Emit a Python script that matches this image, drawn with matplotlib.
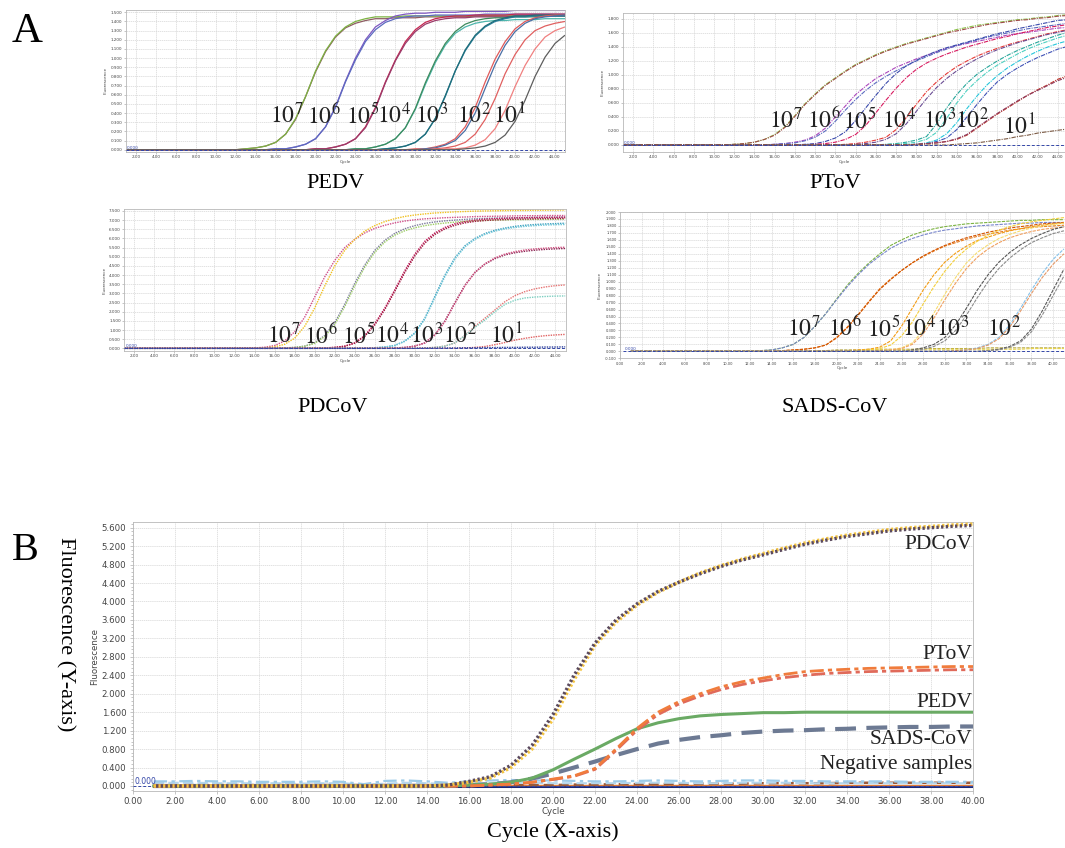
import numpy as np
import matplotlib
matplotlib.use("Agg")
import matplotlib.pyplot as plt
from matplotlib.ticker import MultipleLocator

plt.rcParams["mathtext.fontset"] = "stix"
SERIF = ["Liberation Serif", "DejaVu Serif"]
SANS = ["DejaVu Sans"]

# ============================ DATA ============================
# ---- Panel A : PEDV (cycles 1..45) ----
cycles_pedv = list(range(1, 46))
pedv_7a = [0.0] * 11 + [0.00, 0.01, 0.02, 0.04, 0.08, 0.17, 0.33, 0.58, 0.85, 1.07, 1.23, 1.33, 1.38, 1.41, 1.43, 1.43,
                        1.44, 1.44, 1.44, 1.45, 1.45, 1.45, 1.45, 1.45, 1.46, 1.46, 1.46, 1.46, 1.46, 1.46, 1.47, 1.47, 1.47, 1.47]
pedv_7b = [0.0] * 11 + [0.00, 0.01, 0.02, 0.04, 0.08, 0.17, 0.34, 0.58, 0.86, 1.08, 1.24, 1.34, 1.40, 1.43, 1.45, 1.45,
                        1.45, 1.46, 1.46, 1.46, 1.46, 1.46, 1.46, 1.46, 1.46, 1.46, 1.46, 1.46, 1.46, 1.46, 1.46, 1.46, 1.46, 1.46]
pedv_6a = [0.0] * 15 + [0.01, 0.01, 0.03, 0.06, 0.12, 0.25, 0.47, 0.75, 1.00, 1.20, 1.34, 1.41, 1.46, 1.48, 1.49, 1.49,
                        1.50, 1.50, 1.50, 1.51, 1.51, 1.51, 1.51, 1.51, 1.52, 1.52, 1.52, 1.52, 1.52, 1.52]
pedv_6b = [0.0] * 15 + [0.01, 0.01, 0.03, 0.06, 0.12, 0.25, 0.46, 0.74, 0.98, 1.18, 1.31, 1.39, 1.43, 1.45, 1.46, 1.46,
                        1.47, 1.47, 1.47, 1.47, 1.47, 1.48, 1.48, 1.48, 1.48, 1.48, 1.48, 1.48, 1.48, 1.48]
pedv_5a = [0.0] * 19 + [0.01, 0.01, 0.03, 0.06, 0.12, 0.25, 0.46, 0.74, 0.98, 1.18, 1.31, 1.39, 1.43, 1.45, 1.46, 1.46,
                        1.47, 1.47, 1.47, 1.47, 1.48, 1.48, 1.48, 1.48, 1.48, 1.48]
pedv_5b = [0.0] * 19 + [0.01, 0.01, 0.03, 0.06, 0.12, 0.24, 0.45, 0.73, 0.97, 1.16, 1.29, 1.37, 1.41, 1.43, 1.44, 1.44,
                        1.45, 1.45, 1.45, 1.45, 1.46, 1.46, 1.46, 1.46, 1.46, 1.46]
pedv_4a = [0.0] * 23 + [0.01, 0.01, 0.03, 0.06, 0.12, 0.24, 0.44, 0.71, 0.95, 1.14, 1.27, 1.34, 1.38, 1.40, 1.41, 1.41,
                        1.42, 1.42, 1.42, 1.43, 1.43, 1.43]
pedv_4b = [0.0] * 23 + [0.01, 0.01, 0.03, 0.06, 0.12, 0.24, 0.45, 0.73, 0.97, 1.16, 1.29, 1.37, 1.41, 1.43, 1.44, 1.44,
                        1.45, 1.45, 1.45, 1.46, 1.46, 1.46]
pedv_3a = [0.0] * 25 + [0.00, 0.01, 0.02, 0.04, 0.08, 0.17, 0.34, 0.58, 0.86, 1.08, 1.24, 1.34, 1.40, 1.43, 1.45, 1.45,
                        1.46, 1.46, 1.46, 1.46]
pedv_3b = [0.0] * 25 + [0.00, 0.01, 0.02, 0.04, 0.08, 0.17, 0.34, 0.59, 0.86, 1.09, 1.25, 1.35, 1.41, 1.44, 1.46, 1.46,
                        1.47, 1.47, 1.47, 1.47]
pedv_2a = [0.0] * 29 + [0.01, 0.01, 0.03, 0.06, 0.12, 0.25, 0.46, 0.74, 0.99, 1.18, 1.32, 1.40, 1.44, 1.46, 1.47, 1.47]
pedv_2b = [0.0] * 29 + [0.00, 0.01, 0.02, 0.05, 0.10, 0.21, 0.40, 0.67, 0.93, 1.14, 1.29, 1.38, 1.43, 1.45, 1.46, 1.47]
pedv_1a = [0.0] * 30 + [0.00, 0.01, 0.02, 0.04, 0.08, 0.17, 0.33, 0.56, 0.83, 1.04, 1.20, 1.30, 1.35, 1.38, 1.40]
pedv_1b = [0.0] * 32 + [0.01, 0.01, 0.02, 0.05, 0.11, 0.23, 0.43, 0.69, 0.92, 1.10, 1.23, 1.30, 1.34]
pedv_1c = [0.0] * 33 + [0.00, 0.01, 0.02, 0.04, 0.08, 0.16, 0.31, 0.54, 0.80, 1.01, 1.16, 1.25]
pedv_series = [pedv_7a, pedv_7b, pedv_6a, pedv_6b, pedv_5a, pedv_5b, pedv_4a, pedv_4b,
               pedv_3a, pedv_3b, pedv_2a, pedv_2b, pedv_1a, pedv_1b, pedv_1c]

# ---- Panel A : PToV (cycles 1..45) ----
cycles_ptov = list(range(1, 46))
ptov_7a = [0.0] * 11 + [0.01, 0.02, 0.04, 0.08, 0.15, 0.26, 0.42, 0.59, 0.73, 0.86, 0.96, 1.06, 1.15, 1.22, 1.29, 1.35, 1.40,
                        1.45, 1.49, 1.53, 1.57, 1.61, 1.65, 1.68, 1.71, 1.73, 1.75, 1.77, 1.79, 1.80, 1.82, 1.83, 1.85, 1.86]
ptov_7b = [0.0] * 11 + [0.01, 0.02, 0.04, 0.08, 0.14, 0.25, 0.41, 0.58, 0.72, 0.85, 0.95, 1.05, 1.14, 1.21, 1.28, 1.34, 1.39,
                        1.44, 1.48, 1.52, 1.56, 1.60, 1.63, 1.66, 1.69, 1.72, 1.74, 1.76, 1.78, 1.79, 1.81, 1.82, 1.84, 1.85]
ptov_6a = [0.0] * 15 + [0.01, 0.02, 0.04, 0.07, 0.13, 0.24, 0.40, 0.56, 0.72, 0.84, 0.95, 1.03, 1.11, 1.17, 1.23,
                        1.28, 1.33, 1.38, 1.42, 1.45, 1.48, 1.51, 1.54, 1.57, 1.59, 1.61, 1.63, 1.65, 1.67, 1.68]
ptov_6b = [0.0] * 15 + [0.01, 0.02, 0.03, 0.06, 0.11, 0.20, 0.34, 0.50, 0.65, 0.78, 0.89, 0.98, 1.06, 1.13, 1.20,
                        1.26, 1.32, 1.37, 1.42, 1.46, 1.50, 1.54, 1.57, 1.60, 1.63, 1.66, 1.68, 1.70, 1.72, 1.74]
ptov_5a = [0.0] * 18 + [0.01, 0.02, 0.05, 0.10, 0.19, 0.35, 0.53, 0.71, 0.88, 1.02, 1.13, 1.21, 1.28, 1.34,
                        1.39, 1.43, 1.47, 1.51, 1.55, 1.59, 1.62, 1.66, 1.69, 1.72, 1.75, 1.78, 1.79]
ptov_5b = [0.0] * 19 + [0.01, 0.02, 0.04, 0.08, 0.15, 0.28, 0.46, 0.64, 0.81, 0.96, 1.08, 1.17, 1.24, 1.30,
                        1.35, 1.40, 1.44, 1.48, 1.52, 1.55, 1.59, 1.62, 1.65, 1.68, 1.70, 1.72]
ptov_4a = [0.0] * 22 + [0.01, 0.02, 0.04, 0.07, 0.11, 0.22, 0.39, 0.58, 0.76, 0.90, 1.02, 1.12, 1.20, 1.27,
                        1.33, 1.38, 1.43, 1.47, 1.51, 1.55, 1.59, 1.62, 1.65]
ptov_4b = [0.0] * 23 + [0.01, 0.02, 0.04, 0.08, 0.16, 0.30, 0.48, 0.66, 0.82, 0.95, 1.06, 1.15, 1.23, 1.30,
                        1.36, 1.41, 1.46, 1.50, 1.54, 1.58, 1.61, 1.64]
ptov_3a = [0.0] * 26 + [0.01, 0.02, 0.04, 0.07, 0.12, 0.30, 0.53, 0.72, 0.88, 1.01, 1.11, 1.20, 1.28, 1.35,
                        1.41, 1.47, 1.52, 1.57, 1.61]
ptov_3b = [0.0] * 27 + [0.01, 0.02, 0.04, 0.08, 0.18, 0.38, 0.60, 0.78, 0.92, 1.04, 1.14, 1.22, 1.30, 1.37,
                        1.43, 1.48, 1.53, 1.57]
ptov_2a = [0.0] * 29 + [0.01, 0.02, 0.05, 0.10, 0.22, 0.40, 0.58, 0.75, 0.90, 1.01, 1.10, 1.18, 1.25, 1.31, 1.37, 1.41]
ptov_2b = [0.0] * 29 + [0.01, 0.03, 0.07, 0.16, 0.32, 0.52, 0.70, 0.86, 0.99, 1.10, 1.19, 1.27, 1.34, 1.40, 1.45, 1.49]
ptov_1a = [0.0] * 29 + [0.01, 0.02, 0.03, 0.05, 0.08, 0.14, 0.24, 0.34, 0.44, 0.53, 0.62, 0.71, 0.79, 0.86, 0.94, 0.99]
ptov_1b = [0.0] * 29 + [0.01, 0.02, 0.03, 0.05, 0.09, 0.15, 0.25, 0.35, 0.45, 0.54, 0.63, 0.71, 0.78, 0.85, 0.92, 0.97]
ptov_1c = [0.0] * 32 + [0.00, 0.01, 0.02, 0.03, 0.05, 0.07, 0.09, 0.12, 0.14, 0.17, 0.19, 0.21, 0.23]
ptov_series = [ptov_7a, ptov_7b, ptov_6a, ptov_6b, ptov_5a, ptov_5b, ptov_4a, ptov_4b,
               ptov_3a, ptov_3b, ptov_2a, ptov_2b, ptov_1a, ptov_1b, ptov_1c]

# ---- Panel A : PDCoV (cycles 1..45) ----
cycles_pdcov = list(range(1, 46))
pdcov_7a = [0.0] * 13 + [0.02, 0.06, 0.15, 0.40, 0.90, 1.70, 2.80, 3.90, 4.80, 5.50, 5.95, 6.30, 6.55, 6.72, 6.85, 6.95,
                         7.02, 7.07, 7.10, 7.13, 7.15, 7.17, 7.19, 7.20, 7.21, 7.22, 7.23, 7.24, 7.24, 7.25, 7.25, 7.25]
pdcov_7b = [0.0] * 13 + [0.01, 0.03, 0.08, 0.22, 0.55, 1.20, 2.20, 3.40, 4.50, 5.35, 5.95, 6.40, 6.70, 6.92, 7.08, 7.20,
                         7.28, 7.34, 7.39, 7.42, 7.45, 7.47, 7.49, 7.50, 7.51, 7.52, 7.53, 7.53, 7.54, 7.54, 7.55, 7.55]
pdcov_6a = [0.0] * 16 + [0.02, 0.05, 0.12, 0.30, 0.70, 1.40, 2.40, 3.55, 4.55, 5.35, 5.90, 6.28, 6.53, 6.70, 6.82,
                         6.90, 6.96, 7.00, 7.04, 7.07, 7.09, 7.11, 7.12, 7.13, 7.14, 7.15, 7.15, 7.16, 7.16]
pdcov_6b = [0.0] * 16 + [0.02, 0.05, 0.11, 0.27, 0.64, 1.30, 2.28, 3.42, 4.44, 5.24, 5.80, 6.18, 6.42, 6.58, 6.70,
                         6.78, 6.84, 6.89, 6.93, 6.96, 6.98, 7.00, 7.01, 7.02, 7.03, 7.04, 7.04, 7.05, 7.05]
pdcov_5a = [0.0] * 20 + [0.02, 0.05, 0.12, 0.30, 0.70, 1.35, 2.20, 3.20, 4.25, 5.15, 5.85, 6.30, 6.60, 6.80, 6.92,
                         7.00, 7.05, 7.08, 7.10, 7.12, 7.13, 7.14, 7.15, 7.15, 7.16]
pdcov_5b = [0.0] * 20 + [0.02, 0.05, 0.11, 0.28, 0.66, 1.28, 2.12, 3.12, 4.15, 5.05, 5.75, 6.22, 6.52, 6.72, 6.85,
                         6.93, 6.98, 7.01, 7.03, 7.05, 7.06, 7.07, 7.08, 7.08, 7.09]
pdcov_4a = [0.0] * 24 + [0.01, 0.03, 0.07, 0.16, 0.40, 0.85, 1.65, 2.85, 4.00, 4.95, 5.60, 6.00, 6.27, 6.45, 6.57,
                         6.66, 6.72, 6.76, 6.79, 6.81, 6.83]
pdcov_4b = [0.0] * 24 + [0.01, 0.03, 0.07, 0.15, 0.38, 0.82, 1.60, 2.78, 3.92, 4.88, 5.54, 5.95, 6.22, 6.40, 6.52,
                         6.60, 6.66, 6.70, 6.73, 6.75, 6.76]
pdcov_3a = [0.0] * 27 + [0.02, 0.05, 0.12, 0.30, 0.75, 1.50, 2.50, 3.45, 4.15, 4.60, 4.90, 5.10, 5.22, 5.30, 5.36,
                         5.40, 5.43, 5.45]
pdcov_3b = [0.0] * 27 + [0.02, 0.05, 0.12, 0.29, 0.72, 1.46, 2.46, 3.42, 4.15, 4.62, 4.94, 5.15, 5.28, 5.37, 5.43,
                         5.47, 5.50, 5.52]
pdcov_2a = [0.0] * 30 + [0.02, 0.05, 0.12, 0.30, 0.70, 1.20, 1.65, 2.10, 2.55, 2.88, 3.10, 3.25, 3.35, 3.42, 3.46]
pdcov_2b = [0.0] * 30 + [0.02, 0.05, 0.12, 0.30, 0.70, 1.15, 1.55, 2.00, 2.40, 2.63, 2.75, 2.80, 2.83, 2.85, 2.86]
pdcov_1a = [0.0] * 34 + [0.02, 0.05, 0.10, 0.20, 0.32, 0.45, 0.55, 0.63, 0.69, 0.73, 0.76]
pdcov_neg = [0.0] * 30 + [0.01, 0.01, 0.02, 0.02, 0.03, 0.03, 0.04, 0.04, 0.05, 0.05, 0.06, 0.06, 0.07, 0.07, 0.08]
pdcov_series = [pdcov_7a, pdcov_7b, pdcov_6a, pdcov_6b, pdcov_5a, pdcov_5b, pdcov_4a, pdcov_4b,
                pdcov_3a, pdcov_3b, pdcov_2a, pdcov_2b, pdcov_1a, pdcov_neg]

# ---- Panel A : SADS-CoV (cycles 1..41) ----
cycles_sads = list(range(1, 42))
sads_7a = [0.0] * 12 + [0.01, 0.02, 0.05, 0.10, 0.20, 0.36, 0.54, 0.75, 0.95, 1.12, 1.27, 1.40, 1.52, 1.60, 1.67,
                        1.72, 1.76, 1.79, 1.81, 1.83, 1.84, 1.85, 1.86, 1.87, 1.88, 1.88, 1.89, 1.89, 1.89]
sads_7b = [0.0] * 12 + [0.01, 0.02, 0.05, 0.10, 0.20, 0.36, 0.54, 0.74, 0.93, 1.10, 1.25, 1.37, 1.48, 1.56, 1.62,
                        1.67, 1.71, 1.74, 1.76, 1.78, 1.80, 1.81, 1.82, 1.83, 1.84, 1.84, 1.85, 1.85, 1.85]
sads_6a = [0.0] * 14 + [0.01, 0.02, 0.03, 0.05, 0.09, 0.20, 0.35, 0.53, 0.72, 0.90, 1.04, 1.16, 1.27, 1.36, 1.44,
                        1.51, 1.56, 1.61, 1.65, 1.68, 1.71, 1.74, 1.76, 1.78, 1.79, 1.80, 1.81]
sads_6b = [0.0] * 14 + [0.01, 0.02, 0.03, 0.05, 0.09, 0.19, 0.34, 0.52, 0.71, 0.89, 1.03, 1.16, 1.27, 1.37, 1.45,
                        1.52, 1.58, 1.63, 1.67, 1.71, 1.74, 1.77, 1.79, 1.81, 1.83, 1.84, 1.85]
sads_5a = [0.0] * 20 + [0.01, 0.02, 0.03, 0.06, 0.15, 0.36, 0.62, 0.88, 1.10, 1.28, 1.41, 1.51, 1.59, 1.64, 1.69,
                        1.73, 1.76, 1.79, 1.81, 1.83, 1.84]
sads_5b = [0.0] * 20 + [0.01, 0.01, 0.02, 0.04, 0.09, 0.22, 0.42, 0.68, 0.93, 1.15, 1.33, 1.47, 1.58, 1.67, 1.74,
                        1.79, 1.83, 1.86, 1.88, 1.90, 1.92]
sads_4a = [0.0] * 23 + [0.01, 0.02, 0.05, 0.12, 0.30, 0.55, 0.82, 1.06, 1.27, 1.42, 1.53, 1.62, 1.68, 1.73, 1.77,
                        1.80, 1.82, 1.84]
sads_4b = [0.0] * 23 + [0.01, 0.02, 0.04, 0.10, 0.25, 0.48, 0.74, 0.98, 1.19, 1.35, 1.47, 1.56, 1.63, 1.68, 1.72,
                        1.75, 1.77, 1.78]
sads_3a = [0.0] * 26 + [0.02, 0.05, 0.10, 0.20, 0.38, 0.62, 0.88, 1.10, 1.28, 1.42, 1.53, 1.62, 1.69, 1.75, 1.79]
sads_3b = [0.0] * 26 + [0.01, 0.03, 0.07, 0.15, 0.30, 0.52, 0.77, 1.00, 1.19, 1.34, 1.46, 1.56, 1.63, 1.69, 1.73]
sads_2a = [0.0] * 30 + [0.01, 0.02, 0.05, 0.10, 0.20, 0.38, 0.62, 0.88, 1.12, 1.32, 1.47]
sads_2b = [0.0] * 30 + [0.01, 0.02, 0.04, 0.09, 0.18, 0.35, 0.58, 0.83, 1.06, 1.25, 1.40]
sads_1a = [0.0] * 33 + [0.01, 0.03, 0.07, 0.15, 0.32, 0.58, 0.88, 1.18]
sads_1b = [0.0] * 33 + [0.01, 0.02, 0.06, 0.13, 0.28, 0.52, 0.80, 1.08]
sads_neg_a = [0.0] * 17 + [0.01, 0.01, 0.02, 0.02, 0.02, 0.03, 0.03, 0.03, 0.03, 0.03, 0.04, 0.04, 0.04, 0.04, 0.04,
                           0.04, 0.05, 0.05, 0.05, 0.05, 0.05, 0.05, 0.05, 0.05]
sads_neg_b = [0.0] * 19 + [0.01, 0.01, 0.01, 0.02, 0.02, 0.02, 0.02, 0.02, 0.03, 0.03, 0.03, 0.03, 0.03, 0.03, 0.03,
                           0.03, 0.03, 0.03, 0.04, 0.04, 0.04, 0.04]
sads_series = [sads_neg_a, sads_neg_b, sads_7a, sads_7b, sads_6a, sads_6b, sads_5a, sads_5b, sads_4a, sads_4b,
               sads_3a, sads_3b, sads_2a, sads_2b, sads_1a, sads_1b]

# dilution labels and where they sit (cycle, fluorescence) in each panel
dilution_labels = ["10^{7}", "10^{6}", "10^{5}", "10^{4}", "10^{3}", "10^{2}", "10^{1}"]
pedv_label_x = [15.4, 19.1, 23.1, 26.2, 30.0, 34.2, 37.8]
pedv_label_y = [0.37] * 7
ptov_label_x = [15.4, 19.2, 22.8, 26.6, 30.7, 33.8, 38.6]
ptov_label_y = [0.35, 0.35, 0.35, 0.35, 0.35, 0.35, 0.26]
pdcov_label_x = [15.2, 18.9, 22.7, 26.0, 29.5, 32.8, 37.5]
pdcov_label_y = [0.68] * 7
sads_label_x = [15.4, 19.2, 22.8, 26.0, 29.2, 33.9]
sads_label_y = [0.33] * 6

# ---- Panel B (cycles 1..40) ----
cycles_b = list(range(1, 41))
b_pdcov_a = [0.0] * 14 + [0.02, 0.10, 0.20, 0.45, 0.88, 1.55, 2.40, 3.10, 3.60, 3.95, 4.22, 4.42, 4.60, 4.76, 4.90,
                          5.01, 5.13, 5.24, 5.33, 5.41, 5.47, 5.53, 5.57, 5.60, 5.63, 5.65]
b_pdcov_b = [0.0] * 14 + [0.02, 0.08, 0.17, 0.40, 0.80, 1.45, 2.30, 3.05, 3.55, 3.92, 4.20, 4.42, 4.62, 4.78, 4.92,
                          5.04, 5.16, 5.27, 5.36, 5.44, 5.50, 5.56, 5.60, 5.63, 5.66, 5.68]
b_ptov_a = [0.0] * 16 + [0.02, 0.04, 0.08, 0.15, 0.22, 0.38, 0.80, 1.25, 1.60, 1.83, 2.00, 2.15, 2.26, 2.34, 2.42,
                         2.48, 2.51, 2.53, 2.55, 2.56, 2.57, 2.58, 2.59, 2.59]
b_ptov_b = [0.0] * 16 + [0.02, 0.04, 0.08, 0.14, 0.21, 0.36, 0.77, 1.21, 1.55, 1.78, 1.95, 2.09, 2.20, 2.28, 2.35,
                         2.40, 2.44, 2.46, 2.48, 2.49, 2.50, 2.51, 2.52, 2.52]
b_pedv = [0.0] * 15 + [0.02, 0.04, 0.08, 0.17, 0.35, 0.58, 0.80, 1.03, 1.24, 1.37, 1.46, 1.52, 1.55, 1.57, 1.59,
                       1.59, 1.60, 1.60, 1.60, 1.60, 1.60, 1.60, 1.60, 1.60, 1.60]
b_sads = [0.0] * 15 + [0.02, 0.04, 0.08, 0.16, 0.27, 0.40, 0.53, 0.67, 0.80, 0.92, 1.00, 1.06, 1.10, 1.15, 1.18,
                       1.20, 1.21, 1.23, 1.24, 1.26, 1.27, 1.28, 1.28, 1.29, 1.29]
b_neg_lightblue = [0.10, 0.10, 0.11, 0.10, 0.10, 0.09, 0.09, 0.09, 0.10, 0.09, 0.04, 0.11, 0.12, 0.10, 0.07, 0.10,
                   0.12, 0.13, 0.12, 0.12, 0.11, 0.10, 0.10, 0.11, 0.12, 0.11, 0.10, 0.11, 0.12, 0.12, 0.11, 0.11,
                   0.10, 0.10, 0.10, 0.10, 0.09, 0.09, 0.09, 0.09]
b_neg_lightblue2 = [0.07, 0.07, 0.07, 0.06, 0.06, 0.06, 0.06, 0.05, 0.06, 0.06, 0.03, 0.05, 0.07, 0.06, 0.04, 0.05,
                    0.06, 0.07, 0.07, 0.06, 0.06, 0.06, 0.06, 0.07, 0.07, 0.07, 0.06, 0.06, 0.07, 0.07, 0.07, 0.06,
                    0.06, 0.06, 0.06, 0.06, 0.06, 0.06, 0.06, 0.06]
b_neg_brown = [0.02] * 20 + [0.03, 0.03, 0.04, 0.04, 0.04, 0.05, 0.05, 0.05, 0.05, 0.06,
                             0.06, 0.06, 0.06, 0.07, 0.07, 0.07, 0.07, 0.07, 0.07, 0.07]
b_neg_orange = [0.03] * 40
b_neg_navy = [0.0] * 40
b_labels = ["PDCoV", "PToV", "PEDV", "SADS-CoV", "Negative samples"]
b_label_y = [5.23, 2.84, 1.80, 1.00, 0.46]

# axis ticks
pedv_yticks = [round(0.1 * i, 1) for i in range(16)]
ptov_yticks = [round(0.2 * i, 1) for i in range(10)]
pdcov_yticks = [round(0.5 * i, 1) for i in range(16)]
sads_yticks = [round(-0.1 + 0.1 * i, 1) for i in range(22)]
a_xticks = list(range(2, 46, 2))
sads_xticks = list(range(0, 42, 2))
b_yticks = [round(0.4 * i, 1) for i in range(15)]
b_xticks = list(range(0, 41, 2))

# ============================ STYLES ============================
pedv_colors = ["#8e5c62", "#7cb342", "#7e57c2", "#5c6bc0", "#c62850", "#9b3b6b", "#4db6ac", "#3d8b5d",
               "#2a7f9e", "#1f6e7a", "#e05a5a", "#4a6fa5", "#e06060", "#f08080", "#5d5d5d"]
ptov_colors = ["#8bc34a", "#a04a4a", "#ab47bc", "#5c6bc0", "#3949ab", "#d81b60", "#e53935", "#6a4c93",
               "#26a69a", "#4dd0c0", "#3f51b5", "#26c6da", "#c0392b", "#8e3b5e", "#7b5a44"]
pdcov_colors = ["#d0508a", "#f0c020", "#7a7a9a", "#9ccc65", "#c2185b", "#a01840", "#3a9fbf", "#6ec6d8",
                "#8b2252", "#d05080", "#e57373", "#7ccfc0", "#e06060", "#2c3e9a"]
sads_colors = ["#b5a642", "#e8d44d", "#7cb342", "#7986cb", "#e67e22", "#d35400", "#f39c12", "#f4d03f",
               "#f7dc6f", "#f0a060", "#555555", "#8a8a8a", "#85c1e9", "#e59866", "#5a5a5a", "#8d8d8d"]


def px_axes(left, top, right, bottom):
    return fig.add_axes([left / 1065, 1 - bottom / 848, (right - left) / 1065, (bottom - top) / 848])


def instrument_style(ax, xticks, yticks, fs, xlabel_fs, pad=1.0):
    ax.set_xticks(xticks)
    ax.set_yticks(yticks)
    ax.set_xticklabels([f"{v:.2f}" for v in xticks], fontsize=fs, family=SANS, color="#444444")
    ax.set_yticklabels([f"{v:.3f}" for v in yticks], fontsize=fs, family=SANS, color="#444444")
    ax.grid(True, color="#d6d6d6", lw=0.5, ls=(0, (2, 1)))
    ax.set_axisbelow(True)
    for s in ax.spines.values():
        s.set_color("#b8b8b8")
        s.set_linewidth(0.6)
    ax.tick_params(length=1.5, width=0.4, colors="#999999", pad=pad, labelcolor="#444444")
    ax.set_xlabel("Cycle", fontsize=xlabel_fs, family=SANS, color="#444444", labelpad=0.5)
    ax.set_ylabel("Fluorescence", fontsize=xlabel_fs, family=SANS, color="#444444", labelpad=2)


def threshold(ax, x0, x1, fs):
    ax.plot([x0, x1], [0, 0], color="#3346a8", lw=0.7, ls=(0, (3, 2)), zorder=3)
    ax.text(x0 + 0.1, 0, "0.000", color="#3346a8", fontsize=fs, family=SANS, va="bottom", ha="left")


fig = plt.figure(figsize=(10.65, 8.48), dpi=100)

# ---------------- PEDV ----------------
ax1 = px_axes(126, 10, 565, 152)
for vals, col in zip(pedv_series, pedv_colors):
    ax1.plot(cycles_pedv, vals, color=col, lw=0.9, solid_capstyle="butt")
threshold(ax1, 1, 45, 3)
ax1.set_xlim(1, 45)
ax1.set_ylim(-0.025, 1.525)
instrument_style(ax1, a_xticks, pedv_yticks, 3, 3)
for lab, x, y in zip(dilution_labels, pedv_label_x, pedv_label_y):
    ax1.text(x, y, f"${lab}$", fontsize=17, va="center", ha="left", color="#222222")

# ---------------- PToV ----------------
ax2 = px_axes(623, 12.7, 1065, 151.7)
for vals, col in zip(ptov_series, ptov_colors):
    ax2.plot(cycles_ptov, vals, color=col, lw=0.8, ls=(0, (4, 1, 1, 1)))
threshold(ax2, 1, 45, 3)
ax2.set_xlim(1, 44.7)
ax2.set_ylim(-0.096, 1.89)
instrument_style(ax2, a_xticks, ptov_yticks, 3, 3)
for lab, x, y in zip(dilution_labels, ptov_label_x, ptov_label_y):
    ax2.text(x, y, f"${lab}$", fontsize=17, va="center", ha="left", color="#222222")

# ---------------- PDCoV ----------------
ax3 = px_axes(124.3, 209.3, 566, 350.7)
for vals, col in zip(pdcov_series, pdcov_colors):
    ax3.plot(cycles_pdcov, vals, color=col, lw=1.0, ls=(0, (1, 0.8)))
threshold(ax3, 1, 45, 3)
ax3.set_xlim(1, 45.08)
ax3.set_ylim(-0.13, 7.59)
instrument_style(ax3, a_xticks, pdcov_yticks, 3, 3)
for lab, x, y in zip(dilution_labels, pdcov_label_x, pdcov_label_y):
    ax3.text(x, y, f"${lab}$", fontsize=17, va="center", ha="left", color="#222222")

# ---------------- SADS-CoV ----------------
ax4 = px_axes(620, 212, 1065, 358.3)
for vals, col in zip(sads_series, sads_colors):
    ax4.plot(cycles_sads, vals, color=col, lw=0.8, ls=(0, (3, 1)))
threshold(ax4, 0.3, 41.1, 3)
ax4.set_xlim(0, 41.1)
ax4.set_ylim(-0.1, 2.0)
instrument_style(ax4, sads_xticks, sads_yticks, 2.6, 3)
for lab, x, y in zip(dilution_labels[:6], sads_label_x, sads_label_y):
    ax4.text(x, y, f"${lab}$", fontsize=17, va="center", ha="left", color="#222222")

# subplot names
fig.text(335 / 1065, 1 - 184 / 848, "PEDV", family=SERIF, fontsize=16, ha="center", va="center")
fig.text(835 / 1065, 1 - 184 / 848, "PToV", family=SERIF, fontsize=16, ha="center", va="center")
fig.text(333 / 1065, 1 - 408 / 848, "PDCoV", family=SERIF, fontsize=16, ha="center", va="center")
fig.text(835 / 1065, 1 - 408 / 848, "SADS-CoV", family=SERIF, fontsize=16, ha="center", va="center")
fig.text(27 / 1065, 1 - 32 / 848, "A", family=SERIF, fontsize=31, ha="center", va="center")
fig.text(25 / 1065, 1 - 550 / 848, "B", family=SERIF, fontsize=29, ha="center", va="center")

# ---------------- Panel B ----------------
axb = px_axes(132.7, 522.3, 973.3, 790.6)
axb.plot(cycles_b, b_neg_navy, color="#1b2a78", lw=2.2, zorder=2)
axb.plot(cycles_b, b_neg_orange, color="#e07b39", lw=1.0, zorder=2)
axb.plot(cycles_b, b_neg_brown, color="#9a5a3a", lw=1.8, ls=(0, (4, 2)), zorder=2)
axb.plot(cycles_b, b_neg_lightblue2, color="#b4d6ec", lw=1.5, ls=(0, (5, 2)), zorder=2)
axb.plot(cycles_b, b_neg_lightblue, color="#9ccbe8", lw=1.6, ls=(0, (6, 2, 1.5, 2)), zorder=2)
axb.plot(cycles_b, b_sads, color="#6d7a93", lw=3.0, ls=(0, (5, 2.5)), zorder=3)
axb.plot(cycles_b, b_pedv, color="#6aaa64", lw=2.2, zorder=4)
axb.plot(cycles_b, b_ptov_b, color="#e06a5a", lw=2.0, ls=(0, (5, 1.5, 1.5, 1.5)), zorder=4)
axb.plot(cycles_b, b_ptov_a, color="#f07c3c", lw=2.0, ls=(0, (5, 1.5, 1.5, 1.5)), zorder=4)
axb.plot(cycles_b, b_pdcov_b, color="#f4c542", lw=2.4, ls=(0, (0.7, 0.7)), zorder=5)
axb.plot(cycles_b, b_pdcov_a, color="#5b4a5e", lw=2.4, ls=(0.7, (0.7, 0.7)), zorder=5)
threshold(axb, 0, 40, 5.5)
axb.set_xlim(0, 40)
axb.set_ylim(-0.1, 5.717)
instrument_style(axb, b_xticks, b_yticks, 6.2, 6.2, pad=2)
axb.yaxis.set_minor_locator(MultipleLocator(0.08))
axb.tick_params(which="minor", length=1.2, width=0.4, colors="#999999")
axb.tick_params(which="major", length=2.5)
for lab, y in zip(b_labels, b_label_y):
    axb.text(39.95, y, lab, family=SERIF, fontsize=15.5, ha="right", va="center", color="#222222")

fig.text(65 / 1065, 1 - 634 / 848, "Fluorescence (Y-axis)", family=SERIF, fontsize=16, rotation=270,
         ha="center", va="center")
fig.text(553 / 1065, 1 - 832 / 848, "Cycle (X-axis)", family=SERIF, fontsize=16, ha="center", va="center")

fig.savefig("out.png", dpi=100)
